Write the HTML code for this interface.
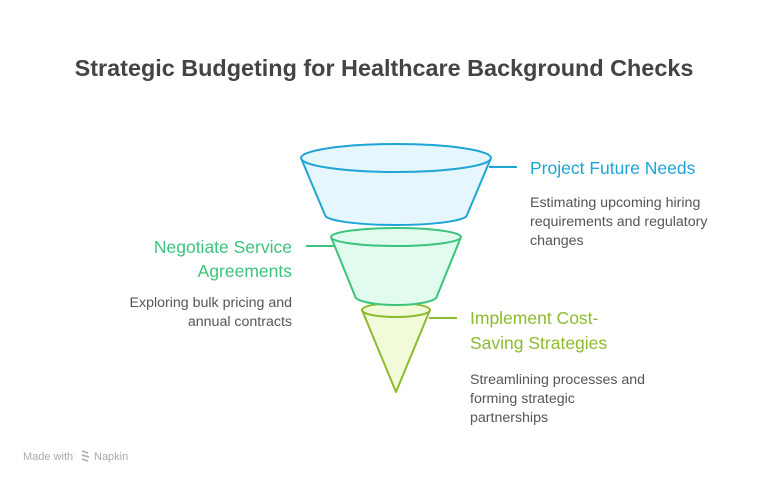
<!DOCTYPE html>
<html><head><meta charset="utf-8"><style>
html,body{margin:0;padding:0;background:#fff;}
svg{display:block;font-family:"Liberation Sans",sans-serif;}
</style></head><body>
<svg width="768" height="484" viewBox="0 0 768 484">
<text x="384" y="76" text-anchor="middle" font-size="23.4" font-weight="bold" fill="#444">Strategic Budgeting for Healthcare Background Checks</text>

<!-- bottom cone -->
<path d="M362 310 L396 392 L430 310 A34 7 0 0 1 362 310 Z" fill="#F1FBD9" stroke="#8DBB2E" stroke-width="2" stroke-linejoin="round"/>
<ellipse cx="396" cy="310" rx="34" ry="7" fill="#F1FBD9" stroke="#8DBB2E" stroke-width="2"/>
<!-- middle -->
<path d="M331 237 L355 296 A41 9 0 0 0 437 296 L461 237 Z" fill="#E1FBEE" stroke="#3CC47C" stroke-width="2" stroke-linejoin="round"/>
<ellipse cx="396" cy="237" rx="65" ry="9" fill="#E1FBEE" stroke="#3CC47C" stroke-width="2"/>
<!-- top -->
<path d="M301 158 L325 215 A71 10 0 0 0 467 215 L491 158 Z" fill="#E5F7FD" stroke="#1EA5D6" stroke-width="2" stroke-linejoin="round"/>
<ellipse cx="396" cy="158" rx="95" ry="14" fill="#E5F7FD" stroke="#1EA5D6" stroke-width="2"/>

<line x1="489" y1="167" x2="517" y2="167" stroke="#1EA5D6" stroke-width="2"/>
<line x1="306" y1="246" x2="334" y2="246" stroke="#3CC47C" stroke-width="2"/>
<line x1="429" y1="318" x2="457" y2="318" stroke="#8DBB2E" stroke-width="2"/>

<text x="530" y="174" font-size="17.5" fill="#1EA5D6">Project Future Needs</text>
<g font-size="14.2" fill="#555">
<text x="530" y="207">Estimating upcoming hiring</text>
<text x="530" y="226">requirements and regulatory</text>
<text x="530" y="245">changes</text>
</g>

<g font-size="17.5" fill="#3CC47C" text-anchor="end">
<text x="292" y="253">Negotiate Service</text>
<text x="292" y="277">Agreements</text>
</g>
<g font-size="14.2" fill="#555" text-anchor="end">
<text x="292" y="307">Exploring bulk pricing and</text>
<text x="292" y="326">annual contracts</text>
</g>

<g font-size="17.5" fill="#8DBB2E">
<text x="470" y="324">Implement Cost-</text>
<text x="470" y="349">Saving Strategies</text>
</g>
<g font-size="14.2" fill="#555">
<text x="470" y="384">Streamlining processes and</text>
<text x="470" y="403">forming strategic</text>
<text x="470" y="422">partnerships</text>
</g>

<text x="23" y="460" font-size="11" fill="#aaa">Made with</text>
<path d="M82 451 l6 2 M82 455 l7 2 M82 459 l6 2" stroke="#aaa" stroke-width="1.5"/>
<text x="94" y="460" font-size="11" fill="#aaa">Napkin</text>
</svg>
</body></html>
